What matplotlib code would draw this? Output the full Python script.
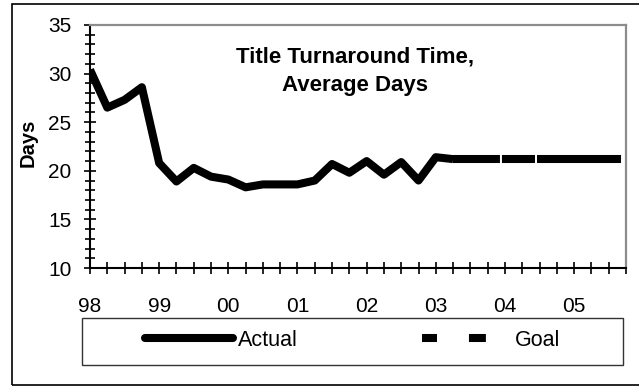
import numpy as np
import matplotlib.pyplot as plt
from matplotlib.lines import Line2D
from matplotlib.patches import Rectangle

plt.rcParams['font.family'] = ['Liberation Sans', 'DejaVu Sans']
plt.rcParams['lines.scale_dashes'] = False

# quarterly values, 98 Q1 .. 03 Q2
actual = [30.4, 26.5, 27.3, 28.6, 20.8, 18.9, 20.3, 19.4, 19.1, 18.3, 18.6,
          18.6, 18.6, 19.0, 20.7, 19.8, 21.0, 19.6, 20.9, 19.0, 21.4, 21.2]
goal = [21.2] * 11
goal_start = 21
year_labels = ['98', '99', '00', '01', '02', '03', '04', '05']
n_quarters = 31

W, H = 639, 386
fig = plt.figure(figsize=(W / 100, H / 100), dpi=100)
ax = fig.add_axes([90 / W, 1 - 268 / H, 536 / W, 243 / H])

x_act = np.arange(len(actual))
x_goal = np.arange(goal_start, goal_start + len(goal))

ax.plot(x_act, actual, color='black', linewidth=5.8, solid_capstyle='butt',
        solid_joinstyle='round', zorder=3)
ax.plot(x_goal, goal, color='black', linewidth=5.8, dash_capstyle='butt',
        dashes=(33.8, 1.44, 23.8, 1.44, 60.5, 20), zorder=3)

ax.set_xlim(0, n_quarters)
ax.set_ylim(10, 35)
ax.set_xticks(np.arange(0, 4 * len(year_labels), 4))
ax.set_xticklabels(year_labels)
ax.set_xticks(np.arange(0, n_quarters + 1), minor=True)
ax.set_yticks(np.arange(10, 36, 5))
ax.set_yticks(np.arange(10, 36, 1), minor=True)

ax.tick_params(axis='both', which='both', direction='inout', width=1.2,
               color='black', labelsize=15)
ax.tick_params(axis='y', which='major', length=8.5, pad=9)
ax.tick_params(axis='y', which='minor', length=6.5)
ax.tick_params(axis='x', which='both', length=8, pad=17)

for side in ['top', 'right']:
    ax.spines[side].set_color('#8c8c8c')
    ax.spines[side].set_linewidth(1.6)
for side in ['left', 'bottom']:
    ax.spines[side].set_color('black')
    ax.spines[side].set_linewidth(1.5)

ax.text(0.495, 0.81, 'Title Turnaround Time,\nAverage Days', transform=ax.transAxes,
        ha='center', va='center', fontsize=16, fontweight='bold', linespacing=1.45)

fig.text(28 / W, 1 - 143 / H, 'Days', rotation=90, ha='center', va='center',
         fontsize=14.5, fontweight='bold')

# legend box
fig.patches.append(Rectangle((82 / W, 1 - 365 / H), 541 / W, 47 / H,
                             transform=fig.transFigure, fill=False,
                             edgecolor='#333333', linewidth=1.0))
h_act = Line2D([], [], color='black', linewidth=5.8, solid_capstyle='round')
h_goal = Line2D([], [], color='black', linewidth=5.8, dash_capstyle='butt',
                dashes=(10.8, 23, 12.2, 30))
fig.legend([h_act, h_goal], ['Actual', 'Goal'], loc='center left',
           bbox_to_anchor=(145 / W, 1 - 340 / H), ncol=2, frameon=False,
           fontsize=15.5, handlelength=4.1, handletextpad=0.2,
           columnspacing=5.8, borderpad=0, borderaxespad=0)

# outer chart border, open on the right
fig.patches.append(Rectangle((12 / W, 1 - 385 / H), 640 / W, 381 / H,
                             transform=fig.transFigure, fill=False,
                             edgecolor='black', linewidth=1.2))

fig.savefig('out.png', dpi=100)
